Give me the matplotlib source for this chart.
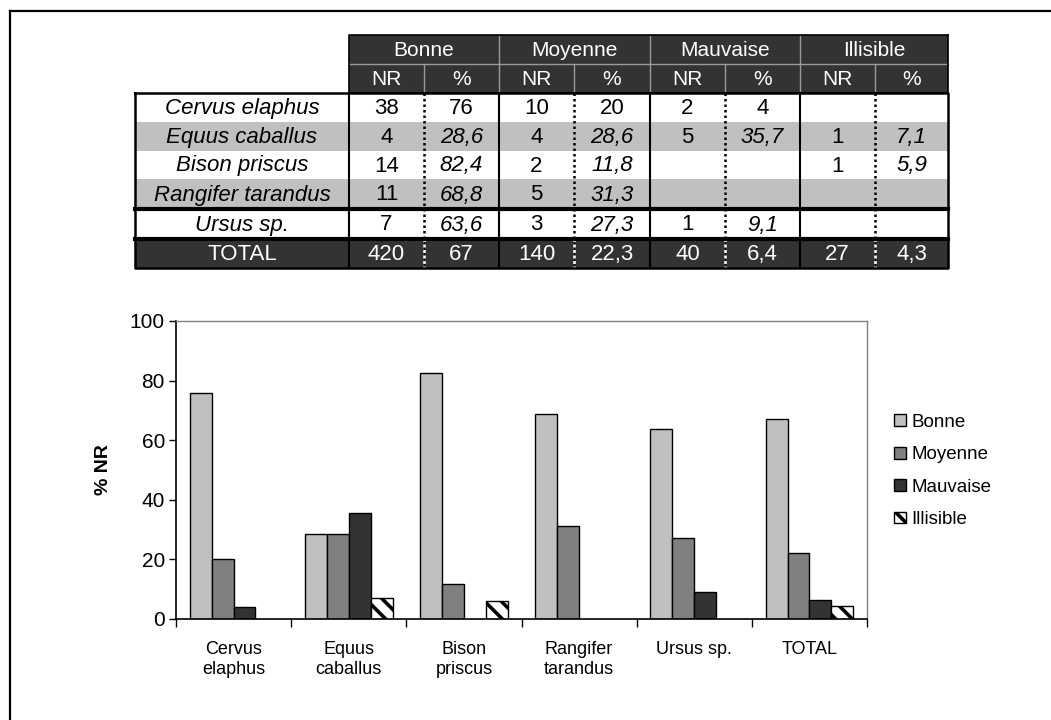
import numpy as np
import matplotlib
matplotlib.use('Agg')
import matplotlib.pyplot as plt
from matplotlib.patches import Rectangle, Patch

plt.rcParams['font.family'] = ['Liberation Sans', 'DejaVu Sans']
plt.rcParams['hatch.linewidth'] = 2.6

# Données du tableau
species = ['Cervus elaphus', 'Equus caballus', 'Bison priscus', 'Rangifer tarandus', 'Ursus sp.']
total_label = 'TOTAL'
groups = ['Bonne', 'Moyenne', 'Mauvaise', 'Illisible']

nr_bonne = [38, 4, 14, 11, 7, 420]
pct_bonne = [76, 28.6, 82.4, 68.8, 63.6, 67]
nr_moyenne = [10, 4, 2, 5, 3, 140]
pct_moyenne = [20, 28.6, 11.8, 31.3, 27.3, 22.3]
nr_mauvaise = [2, 5, None, None, 1, 40]
pct_mauvaise = [4, 35.7, None, None, 9.1, 6.4]
nr_illisible = [None, 1, 1, None, None, 27]
pct_illisible = [None, 7.1, 5.9, None, None, 4.3]

categories = ['Cervus\nelaphus', 'Equus\ncaballus', 'Bison\npriscus',
              'Rangifer\ntarandus', 'Ursus sp.', 'TOTAL']

nr_cols = [nr_bonne, nr_moyenne, nr_mauvaise, nr_illisible]
pct_cols = [pct_bonne, pct_moyenne, pct_mauvaise, pct_illisible]
colors = ['#c0c0c0', '#808080', '#333333', 'white']
hatches = [None, None, None, '\\\\']


def fmt(v):
    if v is None:
        return ''
    return f'{v:g}'.replace('.', ',')


fig = plt.figure(figsize=(10.51, 7.2), dpi=100)

# --- tableau (coordonnées en pixels) ---
tab = fig.add_axes([0, 0, 1, 1])
tab.set_xlim(0, 1051)
tab.set_ylim(720, 0)
tab.axis('off')

# cadre extérieur
tab.plot([10, 1051], [11, 11], color='black', lw=1.6)
tab.plot([10, 10], [11, 720], color='black', lw=1.6)

xcol = [135, 349, 424, 499, 574, 650, 725, 800, 875, 948]
yrow = [35, 64, 93, 122, 151, 179, 209, 239, 268]
dark = '#333333'
fs = 14
fs_tab = 16

# en-tête
tab.add_patch(Rectangle((xcol[1], yrow[0]), xcol[-1] - xcol[1], yrow[2] - yrow[0],
                        facecolor=dark, edgecolor='none'))
for g, name in enumerate(groups):
    x0, x1, x2 = xcol[1 + 2 * g], xcol[2 + 2 * g], xcol[3 + 2 * g]
    tab.text((x0 + x2) / 2, (yrow[0] + yrow[1]) / 2 + 1, name, color='white',
             fontsize=fs_tab - 1, ha='center', va='center')
    tab.text((x0 + x1) / 2, (yrow[1] + yrow[2]) / 2 + 1, 'NR', color='white',
             fontsize=fs_tab - 1, ha='center', va='center')
    tab.text((x1 + x2) / 2, (yrow[1] + yrow[2]) / 2 + 1, '%', color='white',
             fontsize=fs_tab - 1, ha='center', va='center')
    tab.plot([x1, x1], [yrow[1], yrow[2]], color='#9a9a9a', lw=1)
    if g > 0:
        tab.plot([x0, x0], [yrow[0], yrow[2]], color='#9a9a9a', lw=1)
tab.plot([xcol[1], xcol[-1]], [yrow[1], yrow[1]], color='#9a9a9a', lw=1)

# lignes de données
row_labels = species + [total_label]
for r, lab in enumerate(row_labels):
    y0, y1 = yrow[2 + r], yrow[3 + r]
    is_total = lab == total_label
    if is_total:
        bg, fc = dark, 'white'
    elif r in (1, 3):
        bg, fc = '#c0c0c0', 'black'
    else:
        bg, fc = 'white', 'black'
    tab.add_patch(Rectangle((xcol[0], y0), xcol[-1] - xcol[0], y1 - y0,
                            facecolor=bg, edgecolor='none'))
    yc = (y0 + y1) / 2 + 1
    tab.text((xcol[0] + xcol[1]) / 2, yc, lab, color=fc, fontsize=fs_tab,
             ha='center', va='center', style='normal' if is_total else 'italic')
    pct_style = 'italic' if (0 < r < len(species)) else 'normal'
    for g in range(4):
        x0, x1, x2 = xcol[1 + 2 * g], xcol[2 + 2 * g], xcol[3 + 2 * g]
        tab.text((x0 + x1) / 2, yc, fmt(nr_cols[g][r]), color=fc, fontsize=fs_tab,
                 ha='center', va='center')
        tab.text((x1 + x2) / 2, yc, fmt(pct_cols[g][r]), color=fc, fontsize=fs_tab,
                 ha='center', va='center', style=pct_style)

# traits verticaux
for g in range(4):
    x1 = xcol[2 + 2 * g]
    tab.plot([x1, x1], [yrow[7], yrow[8]], color='white', lw=1.8)
    tab.plot([x1, x1], [yrow[2], yrow[8]], color='black', lw=1.8, ls=(0, (1, 1.2)))
for x in xcol[1:-1:2]:
    tab.plot([x, x], [yrow[2], yrow[8]], color='black', lw=1.5)

# traits horizontaux épais + bordure
for y in (yrow[6], yrow[7]):
    tab.plot([xcol[0], xcol[-1]], [y, y], color='black', lw=3)
tab.plot([xcol[0], xcol[-1], xcol[-1], xcol[0], xcol[0]],
         [yrow[2], yrow[2], yrow[8], yrow[8], yrow[2]], color='black', lw=1.8)
tab.plot([xcol[1], xcol[-1], xcol[-1]], [yrow[2], yrow[2], yrow[0]], color='black', lw=1.2)
tab.plot([xcol[1], xcol[1], xcol[-1]], [yrow[2], yrow[0], yrow[0]], color='black', lw=1.2)

# --- graphique ---
W, H = 1051, 720
ax = fig.add_axes([176 / W, (H - 619) / H, (867 - 176) / W, (619 - 321) / H])
x = np.arange(len(categories))
w = 0.19
for g, name in enumerate(groups):
    vals = np.array([np.nan if v is None else v for v in pct_cols[g]], dtype=float)
    ok = ~np.isnan(vals)
    ax.bar(x[ok] + (g - 1.5) * w, vals[ok], width=w, color=colors[g],
           edgecolor='black', linewidth=1.0, hatch=hatches[g], label=name)

ax.set_ylim(0, 100)
ax.set_xlim(-0.5, len(categories) - 0.5)
ax.set_yticks(np.arange(0, 101, 20))
ax.tick_params(axis='y', direction='out', length=5, width=1, labelsize=fs + 1, pad=3)
ax.set_xticks(np.arange(-0.5, len(categories), 1.0))
ax.set_xticklabels([])
ax.tick_params(axis='x', which='major', direction='out', length=6, width=1)
ax.set_xticks(x, minor=True)
ax.set_xticklabels(categories, minor=True, fontsize=fs - 1)
ax.tick_params(axis='x', which='minor', length=0, pad=16)
ax.set_ylabel('% NR', fontsize=fs, fontweight='bold', labelpad=13)
for s in ('left', 'bottom'):
    ax.spines[s].set_color('black')
    ax.spines[s].set_linewidth(1.2)
for s in ('top', 'right'):
    ax.spines[s].set_color('#808080')
    ax.spines[s].set_linewidth(1.0)

handles = [Patch(facecolor=colors[g], edgecolor='black', hatch=hatches[g], label=groups[g])
           for g in range(4)]
fig.legend(handles=handles, loc='center left', bbox_to_anchor=(885 / W, 1 - 471 / H),
           frameon=False, fontsize=fs - 0.5, handlelength=0.6, handleheight=0.6,
           handletextpad=0.3, labelspacing=0.82, borderpad=0)

fig.savefig('out.png', dpi=100)
